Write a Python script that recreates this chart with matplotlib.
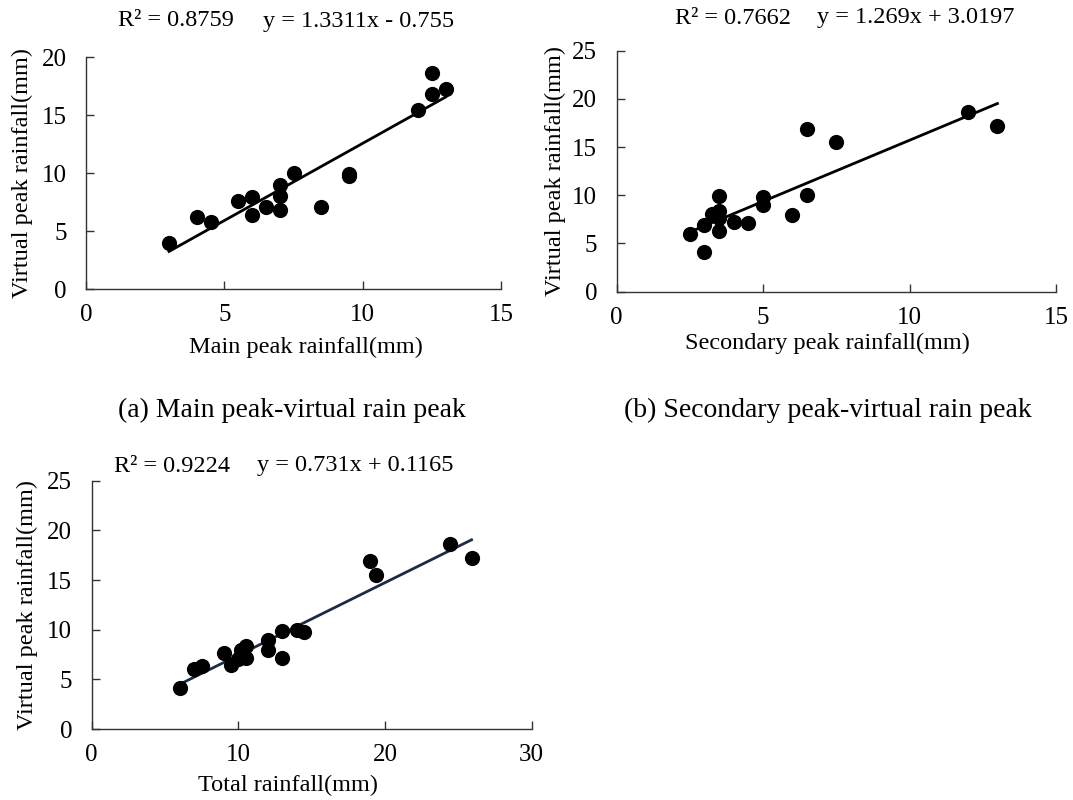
import numpy as np
import matplotlib
matplotlib.use('Agg')
import matplotlib.pyplot as plt

plt.rcParams['font.family'] = ['Liberation Serif', 'DejaVu Serif']

# virtual peak rainfall vs. main peak rainfall (mm)
main_x = [3, 4, 4.5, 5.5, 6, 6, 6.5, 7, 7, 7, 7.5, 8.5, 9.5, 9.5, 12, 12.5, 12.5, 13]
main_y = [4.0, 6.2, 5.8, 7.6, 7.9, 6.4, 7.1, 9.0, 8.05, 6.85, 10.0, 7.1, 9.7, 9.9, 15.4, 18.6, 16.8, 17.2]

# virtual peak rainfall vs. secondary peak rainfall (mm)
sec_x = [2.5, 3, 3, 3.25, 3.5, 3.5, 3.5, 3.5, 4, 4.5, 5, 5, 6, 6.5, 6.5, 7.5, 12, 13]
sec_y = [5.95, 6.9, 4.1, 8.05, 9.9, 8.4, 7.6, 6.3, 7.2, 7.1, 9.8, 9.0, 8.0, 16.9, 10.0, 15.5, 18.6, 17.2]

# virtual peak rainfall vs. total rainfall (mm)
tot_x = [6, 7, 7.5, 9, 9.5, 10, 10.2, 10.5, 10.5, 12, 12, 13, 13, 14, 14.5, 19, 19.4, 24.4, 25.9]
tot_y = [4.1, 6.0, 6.3, 7.7, 6.4, 7.0, 8.0, 8.4, 7.1, 9.0, 8.0, 9.9, 7.1, 10.0, 9.8, 16.9, 15.5, 18.6, 17.2]

# fitted trend lines: (slope, intercept, R^2)
fit_main = (1.3311, -0.755, 0.8759)
fit_sec = (1.269, 3.0197, 0.7662)
fit_tot = (0.731, 0.1165, 0.9224)

W, H = 1073, 800
TICK_FS = 18
LABEL_FS = 17.5
FIT_FS = 17.5
CAP_FS = 20


def px_axes(fig, x0, x1, y_top, y_bot):
    return fig.add_axes([x0 / W, 1 - y_bot / H, (x1 - x0) / W, (y_bot - y_top) / H])


def panel(ax, xs, ys, fit, xlim, ylim, xticks, yticks, xlabel, line_color,
          xlab_pos, ylab_x):
    slope, icpt, r2 = fit
    ax.scatter(xs, ys, s=120, color='black', zorder=3, linewidths=0)
    lx = np.array([min(xs), max(xs)])
    ax.plot(lx, slope * lx + icpt, color=line_color, linewidth=2.0, zorder=2)
    ax.set_xlim(*xlim)
    ax.set_ylim(*ylim)
    ax.set_xticks(xticks)
    ax.set_yticks(yticks)
    for side in ('top', 'right'):
        ax.spines[side].set_visible(False)
    for side in ('left', 'bottom'):
        ax.spines[side].set_color('#333333')
        ax.spines[side].set_linewidth(1.0)
    ax.tick_params(direction='in', length=6, width=1.0, color='#333333',
                   labelsize=TICK_FS)
    ax.tick_params(axis='x', pad=11)
    ax.tick_params(axis='y', pad=14)
    ax.set_xlabel(xlabel, fontsize=LABEL_FS, va='center')
    ax.set_ylabel('Virtual peak rainfall(mm)', fontsize=LABEL_FS, va='center')
    ax.xaxis.set_label_coords(*xlab_pos)
    ax.yaxis.set_label_coords(ylab_x, 0.5)


def fit_text(fig, fit, x_r2, x_eq, y):
    slope, icpt, r2 = fit
    sign = '-' if icpt < 0 else '+'
    fig.text(x_r2 / W, 1 - y / H, f'R² = {r2:.4f}', fontsize=FIT_FS, va='center')
    fig.text(x_eq / W, 1 - y / H, f'y = {slope:g}x {sign} {abs(icpt):g}',
             fontsize=FIT_FS, va='center')


fig = plt.figure(figsize=(W / 100, H / 100), dpi=100)

ax_a = px_axes(fig, 86, 501, 57, 289)
panel(ax_a, main_x, main_y, fit_main, (0, 15), (0, 20), [0, 5, 10, 15],
      [0, 5, 10, 15, 20], 'Main peak rainfall(mm)', 'black',
      (0.53, -0.25), -0.154)
fit_text(fig, fit_main, 118, 263, 21)

ax_b = px_axes(fig, 616.5, 1056, 50.7, 291.7)
panel(ax_b, sec_x, sec_y, fit_sec, (0, 15), (0, 25), [0, 5, 10, 15],
      [0, 5, 10, 15, 20, 25], 'Secondary peak rainfall(mm)', 'black',
      (0.48, -0.213), -0.138)
fit_text(fig, fit_sec, 675, 817, 18)

ax_c = px_axes(fig, 91.7, 531.7, 480.7, 729)
panel(ax_c, tot_x, tot_y, fit_tot, (0, 30), (0, 25), [0, 10, 20, 30],
      [0, 5, 10, 15, 20, 25], 'Total rainfall(mm)', '#1c2a48',
      (0.445, -0.2255), -0.147)
fit_text(fig, fit_tot, 114, 257, 466)

fig.text(292 / W, 1 - 410 / H, '(a) Main peak-virtual rain peak',
         fontsize=CAP_FS, ha='center', va='center')
fig.text(828 / W, 1 - 410 / H, '(b) Secondary peak-virtual rain peak',
         fontsize=CAP_FS, ha='center', va='center')

fig.savefig('out.png', dpi=100)
